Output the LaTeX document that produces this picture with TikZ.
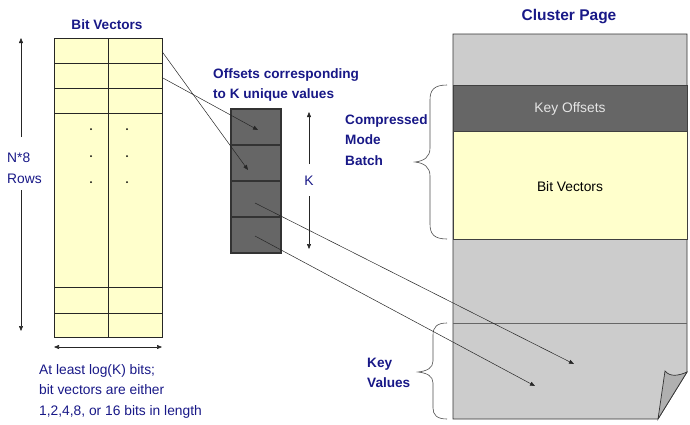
\documentclass[tikz,border=0pt]{standalone}
\usepackage{fontspec}
\setmainfont{Liberation Sans}
\usetikzlibrary{arrows.meta}
\definecolor{navy}{RGB}{24,24,135}
\definecolor{pale}{RGB}{255,255,204}
\definecolor{dkcell}{RGB}{102,102,102}
\definecolor{pagegray}{RGB}{204,204,204}
\definecolor{flapgray}{RGB}{176,176,176}
\tikzset{
  cell/.style={draw=black!85, line width=0.7pt, fill=pale, anchor=north west, inner sep=0pt, outer sep=0pt, minimum width=54pt},
  kcell/.style={draw=black!80, line width=1.2pt, fill=dkcell, anchor=north west, inner sep=0pt, outer sep=0pt, minimum width=50pt, minimum height=36pt},
  region/.style={draw=black!75, line width=0.8pt, anchor=north west, minimum width=234pt, inner sep=0pt, outer sep=0pt},
  pagetext/.style={font=\fontsize{13.8}{16}\selectfont, inner sep=0pt},
  arr/.style={draw=black!85, line width=0.5pt, -{Triangle[length=5pt,width=4pt]}},
  dim/.style={draw=black!85, line width=0.6pt, {Triangle[length=5pt,width=4pt]}-{Triangle[length=5pt,width=4pt]}},
  title/.style={font=\fontsize{13.6}{20.5}\selectfont\bfseries, text=navy, inner sep=0pt},
  label/.style={font=\fontsize{13.8}{20.5}\selectfont, text=navy, inner sep=0pt},
  brace/.style={draw=black!70, line width=0.6pt},
}
\begin{document}
\begin{tikzpicture}[x=1pt,y=-1pt]
\useasboundingbox (0,0) rectangle (690,424);
% bit vector grid
\node[cell, minimum height=25pt] (a1) at (54,38) {};
\node[cell, minimum height=25pt] (b1) at (108,38) {};
\node[cell, minimum height=25pt] (a2) at (54,63) {};
\node[cell, minimum height=25pt] (b2) at (108,63) {};
\node[cell, minimum height=25pt] (a3) at (54,88) {};
\node[cell, minimum height=25pt] (b3) at (108,88) {};
\node[cell, minimum height=174pt] (a4) at (54,113) {};
\node[cell, minimum height=174pt] (b4) at (108,113) {};
\node[cell, minimum height=26pt] (a5) at (54,287) {};
\node[cell, minimum height=26pt] (b5) at (108,287) {};
\node[cell, minimum height=24pt] (a6) at (54,313) {};
\node[cell, minimum height=24pt] (b6) at (108,313) {};
\foreach \yy in {129,156,182}{
  \fill (91,\yy) circle (1pt);
  \fill (127,\yy) circle (1pt);
}
\node[title] (bvt) at (107,24.5) {Bit Vectors};
% N*8 rows
\node[label, align=left, anchor=west] (n8) at (7,168) {N*8\\Rows};
\coordinate (n8top) at (21,38);
\coordinate (n8bot) at (21,331);
\draw[arr] (21,137) -- (n8top);
\draw[arr] (21,190) -- (n8bot);
% width dimension
\coordinate (wl) at (54,347);
\coordinate (wr) at (162,347);
\draw[dim] (wl) -- (wr);
\node[label, align=left, anchor=north west] (note) at (39,364) {At least log(K) bits;\\bit vectors are either\\1,2,4,8, or 16 bits in length};
% key offsets column
\node[kcell] (k1) at (231,109) {};
\node[kcell] (k2) at (231,145) {};
\node[kcell] (k3) at (231,181) {};
\node[kcell] (k4) at (231,217) {};
\node[title, align=left, anchor=west] (offt) at (213,85) {Offsets corresponding\\to K unique values};
% K dimension
\node[label] (kl) at (309,181) {K};
\coordinate (ktop) at (309,112);
\coordinate (kbot) at (309,249);
\draw[arr] (309,164) -- (ktop);
\draw[arr] (309,196) -- (kbot);
% cluster page
\node[title, font=\fontsize{15.5}{18}\selectfont\bfseries] (cpt) at (569,17) {Cluster Page};
\path[fill=pagegray, draw=black!80, line width=0.8pt] (453,34) -- (687,34) -- (687,372) -- (658,419) -- (453,419) -- cycle;
\node[region, fill=dkcell, minimum height=46pt] (ko) at (453,85) {};
\node[region, fill=pale, minimum height=108pt] (bvp) at (453,131) {};
\node[pagetext, text=white!90!black] (kot) at (570,109) {Key Offsets};
\node[pagetext] (bvpt) at (570,187) {Bit Vectors};
\coordinate (s1) at (453,323);
\coordinate (s2) at (687,323);
\draw[black!60, line width=0.8pt] (s1) -- (s2);
\path[fill=flapgray, draw=black!80, line width=0.7pt] (687,372) .. controls (678,376) and (670,377) .. (665,371) -- (658,419) -- cycle;
% braces
\draw[brace] (447,85) .. controls (434,85) and (430,90) .. (430,100) -- (430,148) .. controls (430,157) and (424,161) .. (415,162) .. controls (424,163) and (430,167) .. (430,176) -- (430,224) .. controls (430,234) and (434,239) .. (447,239);
\node[title, align=left, anchor=west] (cmb) at (345,140) {Compressed\\Mode\\Batch};
\draw[brace] (447,323) .. controls (437,323) and (433,327) .. (433,335) -- (433,361) .. controls (433,368) and (427,371) .. (418,372) .. controls (427,373) and (433,376) .. (433,383) -- (433,408) .. controls (433,415) and (437,419) .. (447,419);
\node[title, align=left, anchor=west] (kv) at (367,373) {Key\\Values};
% pointer arrows
\coordinate (t1) at (248,170);
\coordinate (t2) at (258,130);
\coordinate (f3) at (255,203);
\coordinate (t3) at (574,364);
\coordinate (f4) at (255,236);
\coordinate (t4) at (535,386);
\draw[arr] (b1.east) ++(0,1) -- (t1);
\draw[arr] (b2.east) ++(0,2) -- (t2);
\draw[arr] (f3) -- (t3);
\draw[arr] (f4) -- (t4);
\end{tikzpicture}
\end{document}
